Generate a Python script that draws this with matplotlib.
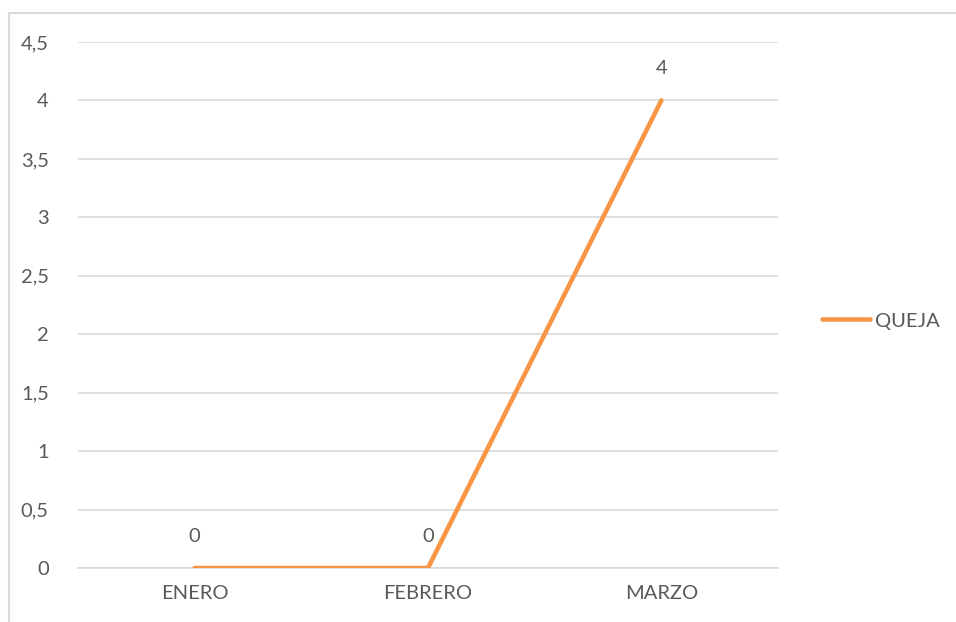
import matplotlib
matplotlib.use("Agg")
import matplotlib.pyplot as plt
from matplotlib.lines import Line2D

months = ["ENERO", "FEBRERO", "MARZO"]
quejas = [0, 0, 4]
y_ticks = [0, 0.5, 1, 1.5, 2, 2.5, 3, 3.5, 4, 4.5]

orange = "#F79646"
text_gray = "#595959"
grid_gray = "#D9D9D9"
fs = 14.5

plt.rcParams["font.family"] = ["Lato", "DejaVu Sans"]

fig = plt.figure(figsize=(9.56, 6.22), dpi=100)
ax = fig.add_axes([78 / 956, 54 / 622, 700 / 956, 526 / 622])

x = range(len(months))
ax.plot(x, quejas, color=orange, linewidth=3.3, solid_capstyle="round",
        solid_joinstyle="round", zorder=3, label="QUEJA")

for xi, v in zip(x, quejas):
    ax.annotate(f"{v:g}".replace(".", ","), (xi, v), xytext=(0, 32),
                textcoords="offset pixels", ha="center", va="center",
                fontsize=fs, color=text_gray)

ax.set_xlim(-0.5, len(months) - 0.5)
ax.set_ylim(0, 4.5)
ax.set_yticks(y_ticks)
ax.set_yticklabels([f"{t:g}".replace(".", ",") for t in y_ticks])
ax.set_xticks(list(x))
ax.set_xticklabels(months)
ax.tick_params(length=0, labelsize=fs, colors=text_gray)
ax.tick_params(axis="y", pad=21)
ax.tick_params(axis="x", pad=12)
ax.yaxis.grid(True, color=grid_gray, linewidth=1.2)
ax.set_axisbelow(True)
for side in ["top", "right", "left"]:
    ax.spines[side].set_visible(False)
ax.spines["bottom"].set_color(grid_gray)
ax.spines["bottom"].set_linewidth(1.2)

# chart frame, only top and left edges fall inside the image
fig.add_artist(Line2D([9 / 956, 9 / 956], [0, 1 - 13 / 622], color=grid_gray,
                      linewidth=1.5, transform=fig.transFigure))
fig.add_artist(Line2D([9 / 956, 1], [1 - 13 / 622, 1 - 13 / 622], color=grid_gray,
                      linewidth=1.5, transform=fig.transFigure))

fig.legend(handles=[Line2D([], [], color=orange, linewidth=3.3, solid_capstyle="round")],
           labels=["QUEJA"], loc="center left", bbox_to_anchor=(822 / 956, 1 - 321 / 622),
           frameon=False, handlelength=2.4, handletextpad=0.25, fontsize=fs,
           labelcolor=text_gray, borderpad=0, borderaxespad=0)

fig.savefig("out.png", dpi=100, facecolor="white")
